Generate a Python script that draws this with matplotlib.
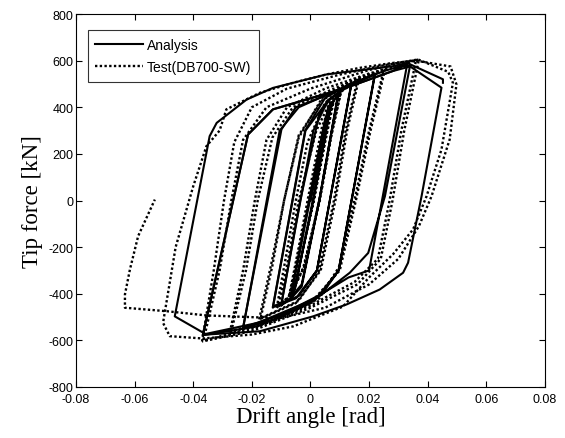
import matplotlib
matplotlib.use('Agg')
import matplotlib.pyplot as plt

# drift angle [rad], tip force [kN] -- vertices

# analysis, cycle groups
ana_c1 = [(0, 0), (0.0062, 400), (0.0070, 418), (0.0008, 0), (-0.0052, -375), (-0.0064, -398),
          (-0.0002, 0), (0.0060, 398), (0.0072, 422), (0.0010, 0), (-0.0055, -385), (-0.0067, -408)]
ana_c2 = [(-0.0067, -408), (-0.0005, 0), (0.0050, 350), (0.0075, 420), (0.0095, 455), (0.0030, 0),
          (-0.0030, -360), (-0.0070, -420), (-0.0100, -448), (-0.0035, 0), (0.0030, 370), (0.0070, 440),
          (0.0095, 462), (0.0030, 0), (-0.0030, -370), (-0.0070, -425), (-0.0100, -450)]
ana_c3 = [(-0.0100, -450), (0.0010, 300), (0.0060, 430), (0.0140, 500), (0.0022, -300), (-0.0040, -410),
          (-0.0128, -454), (-0.0018, 300), (0.0050, 440), (0.0140, 505), (0.0022, -300), (-0.0050, -420),
          (-0.0128, -458)]
ana_c4 = [(-0.0128, -458), (-0.0017, 300), (0.0060, 430), (0.0140, 500), (0.0220, 540), (0.0096, -300),
          (0.0040, -400), (-0.0100, -490), (-0.0230, -545), (-0.0099, 305), (-0.0050, 400), (0.0093, 470),
          (0.0220, 545), (0.0096, -300), (0.0020, -420), (-0.0120, -510), (-0.0230, -548)]
ana_c5 = [(-0.0230, -548), (-0.0105, 300), (-0.0040, 400), (0.0120, 490), (0.0250, 555), (0.0330, 585),
          (0.0200, -300), (0.0130, -330), (0.0000, -430), (-0.0180, -525), (-0.0367, -575),
          (-0.0213, 283), (-0.0128, 391), (0.0123, 484), (0.0280, 555), (0.0316, 576), (0.0340, 580),
          (0.0254, 18), (0.0197, -225), (0.0134, -310), (0.0000, -440), (-0.0180, -540), (-0.0367, -578)]
ana_c6 = [(-0.0367, -578), (-0.0213, 283), (-0.0128, 391), (0.0123, 484), (0.0280, 555), (0.0340, 575),
          (0.0447, 484), (0.0379, 18), (0.0333, -267), (0.0316, -310), (0.0236, -382), (0.0123, -446),
          (0.0009, -497), (-0.0173, -561), (-0.0355, -575), (-0.0463, -497), (-0.0344, 276),
          (-0.0320, 333), (-0.0218, 433), (-0.0128, 483), (0.0055, 541), (0.0280, 576), (0.0330, 590),
          (0.0452, 520), (0.0452, 505)]

# test DB700-SW
test_c1 = [(0, 0), (0.0040, 270), (0.0076, 425), (0.0050, 260), (0.0010, 0), (-0.0035, -260),
           (-0.0070, -400), (-0.0045, -250), (-0.0005, 0), (0.0040, 280), (0.0080, 430), (0.0050, 250),
           (0.0012, 0), (-0.0040, -280), (-0.0073, -410)]
test_c2 = [(-0.0073, -410), (-0.0040, -200), (-0.0010, 0), (0.0040, 320), (0.0075, 420), (0.0102, 460),
           (0.0070, 280), (0.0030, 0), (-0.0020, -280), (-0.0065, -400), (-0.0110, -455), (-0.0080, -280),
           (-0.0040, 0), (0.0020, 300), (0.0070, 430), (0.0105, 468), (0.0072, 280), (0.0032, 0),
           (-0.0025, -290), (-0.0070, -410), (-0.0115, -460)]
test_c3 = [(-0.0115, -460), (-0.0085, -250), (-0.0050, 0), (-0.0010, 250), (0.0050, 420), (0.0160, 515),
           (0.0120, 300), (0.0080, 0), (0.0030, -300), (-0.0040, -430), (-0.0170, -505), (-0.0130, -280),
           (-0.0090, 0), (-0.0040, 280), (0.0040, 430), (0.0165, 520), (0.0125, 300), (0.0085, 0),
           (0.0035, -300), (-0.0050, -440), (-0.0175, -510)]
test_c4 = [(-0.0175, -510), (-0.0130, -250), (-0.0090, 0), (-0.0040, 270), (0.0040, 440), (0.0150, 520),
           (0.0250, 560), (0.0200, 300), (0.0150, 0), (0.0100, -280), (0.0030, -420), (-0.0100, -500),
           (-0.0270, -560), (-0.0220, -300), (-0.0180, 0), (-0.0130, 270), (-0.0060, 400), (0.0080, 480),
           (0.0255, 565), (0.0205, 300), (0.0155, 0), (0.0100, -300), (0.0000, -440), (-0.0130, -520),
           (-0.0275, -565)]
test_c5 = [(-0.0275, -565), (-0.0230, -300), (-0.0190, 0), (-0.0150, 260), (-0.0080, 400), (0.0050, 480),
           (0.0200, 545), (0.0360, 600), (0.0310, 300), (0.0270, 0), (0.0230, -250), (0.0150, -350),
           (0.0000, -450), (-0.0200, -550), (-0.0365, -600), (-0.0310, -300), (-0.0270, 0), (-0.0230, 260),
           (-0.0150, 400), (0.0000, 480), (0.0200, 560), (0.0370, 605), (0.0320, 300), (0.0280, 0),
           (0.0240, -250), (0.0160, -360), (0.0000, -460), (-0.0200, -560), (-0.0370, -605)]
test_c6 = [(-0.0370, -605), (-0.0330, -300), (-0.0295, 0), (-0.0260, 250), (-0.0200, 400), (-0.0080, 480),
           (0.0100, 540), (0.0250, 580), (0.0367, 605), (0.0470, 552), (0.0486, 505), (0.0447, 219),
           (0.0396, 18), (0.0350, -124), (0.0282, -230), (0.0200, -330), (0.0111, -455), (-0.0059, -540),
           (-0.0200, -575), (-0.0367, -592), (-0.0480, -582), (-0.0503, -525), (-0.0460, -200),
           (-0.0400, 61), (-0.0355, 233), (-0.0310, 300), (-0.0287, 391), (-0.0173, 462), (-0.0059, 505),
           (0.0055, 541), (0.0168, 569), (0.0280, 590), (0.0360, 600), (0.0478, 575), (0.0498, 498),
           (0.0475, 262), (0.0413, 18), (0.0370, -110), (0.0300, -250), (0.0200, -360), (0.0050, -460),
           (-0.0105, -505), (-0.0355, -493), (-0.0490, -475), (-0.0633, -460), (-0.0633, -403),
           (-0.0616, -296), (-0.0588, -153), (-0.0531, 4)]

ana_cycles = [ana_c1, ana_c2, ana_c3, ana_c4, ana_c5, ana_c6]
test_cycles = [test_c1, test_c2, test_c3, test_c4, test_c5, test_c6]

xticks = [-0.08, -0.06, -0.04, -0.02, 0, 0.02, 0.04, 0.06, 0.08]
xticklabels = ['-0.08', '-0.06', '-0.04', '-0.02', '0', '0.02', '0.04', '0.06', '0.08']
yticks = [-800, -600, -400, -200, 0, 200, 400, 600, 800]

fig = plt.figure(figsize=(5.65, 4.39), dpi=100)
ax = fig.add_axes([0.1345, 0.1162, 0.830, 0.8496])

dot = (0, (1, 1))
for i, cyc in enumerate(test_cycles):
    xs = [p[0] for p in cyc]
    ys = [p[1] for p in cyc]
    ax.plot(xs, ys, color='black', linestyle=dot, linewidth=1.7,
            label='Test(DB700-SW)' if i == 0 else None)
for i, cyc in enumerate(ana_cycles):
    xs = [p[0] for p in cyc]
    ys = [p[1] for p in cyc]
    ax.plot(xs, ys, color='black', linestyle='-', linewidth=1.5,
            label='Analysis' if i == 0 else None)

ax.set_xlim(-0.08, 0.08)
ax.set_ylim(-800, 800)
ax.set_xticks(xticks)
ax.set_yticks(yticks)
ax.set_xticklabels(xticklabels)
ax.set_yticklabels([str(v) for v in yticks])
ax.tick_params(direction='in', top=True, right=True, length=4, width=0.8, labelsize=9)
ax.tick_params(axis='x', pad=4)
ax.tick_params(axis='y', pad=2)
for lab in ax.get_xticklabels() + ax.get_yticklabels():
    lab.set_family('Liberation Sans')
for s in ax.spines.values():
    s.set_linewidth(0.8)

ax.set_xlabel('Drift angle [rad]', family='Liberation Serif', fontsize=16.5, labelpad=1)
ax.set_ylabel('Tip force [kN]', family='Liberation Serif', fontsize=16.5, labelpad=4)

h, l = ax.get_legend_handles_labels()
order = [l.index('Analysis'), l.index('Test(DB700-SW)')]
leg = ax.legend([h[k] for k in order], [l[k] for k in order], loc='upper left',
                bbox_to_anchor=(0.025, 0.957), prop={'family': 'Liberation Sans', 'size': 10},
                frameon=True, fancybox=False, edgecolor='black', handlelength=3.4,
                handletextpad=0.3, borderpad=0.55, labelspacing=0.6, borderaxespad=0)
leg.get_frame().set_linewidth(0.8)

fig.savefig('out.png', dpi=100)
